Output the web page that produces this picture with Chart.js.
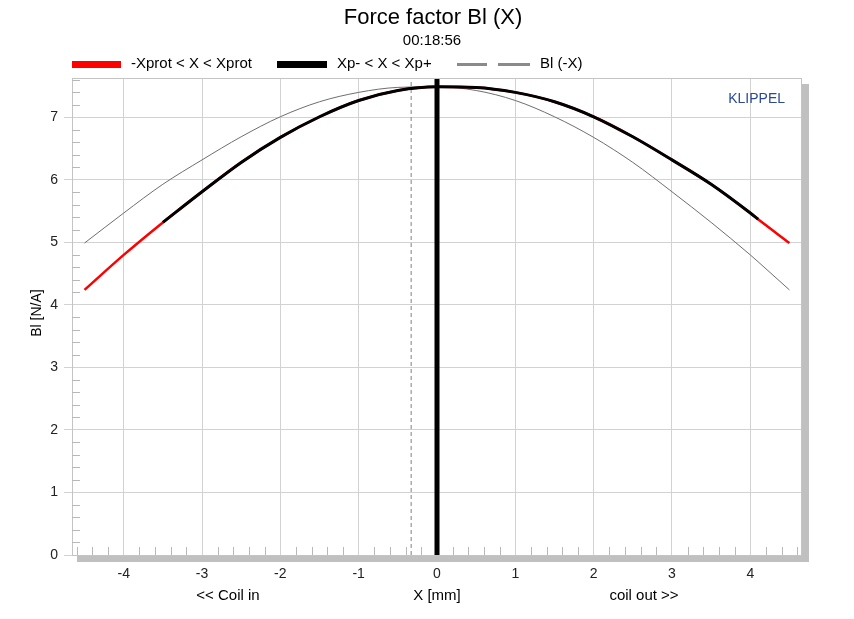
<!DOCTYPE html>
<html>
<head>
<meta charset="utf-8">
<title>Force factor Bl (X)</title>
<script src="https://cdn.jsdelivr.net/npm/chart.js@4"></script>
<style>
    html, body { margin: 0; padding: 0; background: #fff; }
    #wrap { width: 854px; height: 619px; position: relative; }
</style>
</head>
<body>
<div id="wrap"><canvas id="blChart" width="854" height="619"></canvas></div>
<script>
// Displacement samples (mm)
const xMm = [-4.5, -4, -3.5, -3, -2.5, -2, -1.5, -1, -0.5, 0, 0.5, 1, 1.5, 2, 2.5, 3, 3.5, 4, 4.1, 4.5];
// Bl(X) in N/A
const blPos = [4.24, 4.80, 5.32, 5.81, 6.28, 6.68, 7.01, 7.27, 7.43, 7.49, 7.48, 7.40, 7.25, 7.01, 6.69, 6.32, 5.93, 5.47, 5.37, 4.99];
// Bl(-X) in N/A
const blNeg = [4.99, 5.47, 5.93, 6.32, 6.69, 7.01, 7.25, 7.40, 7.48, 7.49, 7.43, 7.27, 7.01, 6.68, 6.28, 5.81, 5.32, 4.80, 4.69, 4.24];
// Xp- .. Xp+ range (mm)
const xpRange = [-3.5, 4.1];
// rest position and offset marker (mm)
const xRest = 0;
const xOffset = -0.33;

const xTicks = [-4, -3, -2, -1, 0, 1, 2, 3, 4];
const yTicks = [0, 1, 2, 3, 4, 5, 6, 7];
const xLimits = [-4.66, 4.66];
const yLimits = [0, 7.63];

const FONT = '"Liberation Sans", Arial, sans-serif';

function pts(xs, ys) {
    return xs.map((x, i) => ({ x: x, y: ys[i] }));
}

const xpPoints = pts(xMm, blPos).filter(p => p.x >= xpRange[0] && p.x <= xpRange[1]);

// Background, shadow, border, minor ticks and all texts
const klippelDecor = {
    id: 'klippelDecor',
    beforeDraw(chart) {
        const ctx = chart.ctx;
        const a = chart.chartArea;
        ctx.save();
        ctx.fillStyle = '#ffffff';
        ctx.fillRect(0, 0, chart.width, chart.height);
        ctx.fillStyle = '#c0c0c0';
        ctx.fillRect(a.right, a.top + 6, 7, a.bottom - a.top);
        ctx.fillRect(a.left + 5, a.bottom, a.right - a.left + 2, 7);
        ctx.fillStyle = '#ffffff';
        ctx.fillRect(a.left, a.top, a.right - a.left, a.bottom - a.top);
        ctx.restore();
    },
    afterDraw(chart) {
        const ctx = chart.ctx;
        const a = chart.chartArea;
        const xs = chart.scales.x;
        const ys = chart.scales.y;
        ctx.save();

        // border
        ctx.strokeStyle = '#c4c4c4';
        ctx.lineWidth = 1;
        ctx.strokeRect(a.left + 0.5, a.top + 0.5, a.right - a.left - 1, a.bottom - a.top);

        // minor ticks
        ctx.strokeStyle = '#b8b8b8';
        ctx.beginPath();
        for (let v = -46; v <= 46; v += 2) {
            if (v % 10 === 0) continue;
            const px = Math.round(xs.getPixelForValue(v / 10)) + 0.5;
            ctx.moveTo(px, a.bottom);
            ctx.lineTo(px, a.bottom - 8);
        }
        for (let v = 2; v <= 76; v += 2) {
            if (v % 10 === 0) continue;
            const py = Math.round(ys.getPixelForValue(v / 10)) + 0.5;
            ctx.moveTo(a.left, py);
            ctx.lineTo(a.left + 8, py);
        }
        ctx.stroke();

        // title
        ctx.fillStyle = '#000';
        ctx.textAlign = 'center';
        ctx.textBaseline = 'alphabetic';
        ctx.font = '22px ' + FONT;
        ctx.fillText('Force factor Bl (X)', 433, 24);
        ctx.font = '15px ' + FONT;
        ctx.fillText('00:18:56', 432, 45);

        // legend
        ctx.textAlign = 'left';
        ctx.font = '15px ' + FONT;
        ctx.fillStyle = '#ff0000';
        ctx.fillRect(72, 61, 49, 7);
        ctx.fillStyle = '#000';
        ctx.fillText('-Xprot < X < Xprot', 131, 68);
        ctx.fillRect(277, 61, 50, 7);
        ctx.fillText('Xp- < X < Xp+', 337, 68);
        ctx.fillStyle = '#8a8a8a';
        ctx.fillRect(457, 63, 30, 3);
        ctx.fillRect(498, 63, 32, 3);
        ctx.fillStyle = '#000';
        ctx.fillText('Bl (-X)', 540, 68);

        // brand
        ctx.textAlign = 'right';
        ctx.font = '14px ' + FONT;
        ctx.fillStyle = '#2b4a96';
        ctx.fillText('KLIPPEL', 785, 103);

        // axis labels
        ctx.fillStyle = '#000';
        ctx.textAlign = 'center';
        ctx.font = '15px ' + FONT;
        ctx.fillText('<< Coil in', 228, 600);
        ctx.fillText('X [mm]', 437, 600);
        ctx.fillText('coil out >>', 644, 600);

        ctx.translate(37, 313);
        ctx.rotate(-Math.PI / 2);
        ctx.font = '14px ' + FONT;
        ctx.textBaseline = 'middle';
        ctx.fillText('Bl [N/A]', 0, 0);
        ctx.restore();
    }
};

const ctx = document.getElementById('blChart');

const chart = new Chart(ctx, {
    type: 'line',
    data: {
        datasets: [
            {
                label: 'rest',
                data: [{ x: xRest, y: yLimits[0] }, { x: xRest, y: yLimits[1] }],
                borderColor: '#000',
                borderWidth: 5,
                order: 1
            },
            {
                label: 'Xp- < X < Xp+',
                data: xpPoints,
                borderColor: '#000',
                borderWidth: 3,
                cubicInterpolationMode: 'monotone',
                order: 2
            },
            {
                label: '-Xprot < X < Xprot',
                data: pts(xMm, blPos),
                borderColor: '#ff0000',
                borderWidth: 2.5,
                cubicInterpolationMode: 'monotone',
                order: 3
            },
            {
                label: 'Bl (-X)',
                data: pts(xMm, blNeg),
                borderColor: '#6e6e6e',
                borderWidth: 1,
                cubicInterpolationMode: 'monotone',
                order: 4
            },
            {
                label: 'offset',
                data: [{ x: xOffset, y: yLimits[0] }, { x: xOffset, y: yLimits[1] }],
                borderColor: '#808080',
                borderWidth: 1,
                borderDash: [4, 3],
                order: 5
            }
        ]
    },
    options: {
        responsive: false,
        animation: false,
        events: [],
        layout: { padding: { top: 78, right: 52, bottom: 0, left: 0 } },
        elements: { point: { radius: 0 } },
        plugins: {
            legend: { display: false },
            title: { display: false },
            tooltip: { enabled: false }
        },
        scales: {
            x: {
                type: 'linear',
                min: xLimits[0],
                max: xLimits[1],
                afterBuildTicks: s => { s.ticks = xTicks.map(v => ({ value: v })); },
                afterFit: s => { s.height = 64; },
                grid: { color: '#d2d2d2', drawTicks: false },
                border: { display: false },
                ticks: {
                    padding: 11,
                    color: '#222',
                    font: { family: FONT, size: 14 }
                }
            },
            y: {
                type: 'linear',
                min: yLimits[0],
                max: yLimits[1],
                afterBuildTicks: s => { s.ticks = yTicks.map(v => ({ value: v })); },
                afterFit: s => { s.width = 72; },
                grid: { color: '#d2d2d2', tickLength: 8 },
                border: { display: false },
                ticks: {
                    padding: 6,
                    color: '#222',
                    font: { family: FONT, size: 14 }
                }
            }
        }
    },
    plugins: [klippelDecor]
});
</script>
</body>
</html>
